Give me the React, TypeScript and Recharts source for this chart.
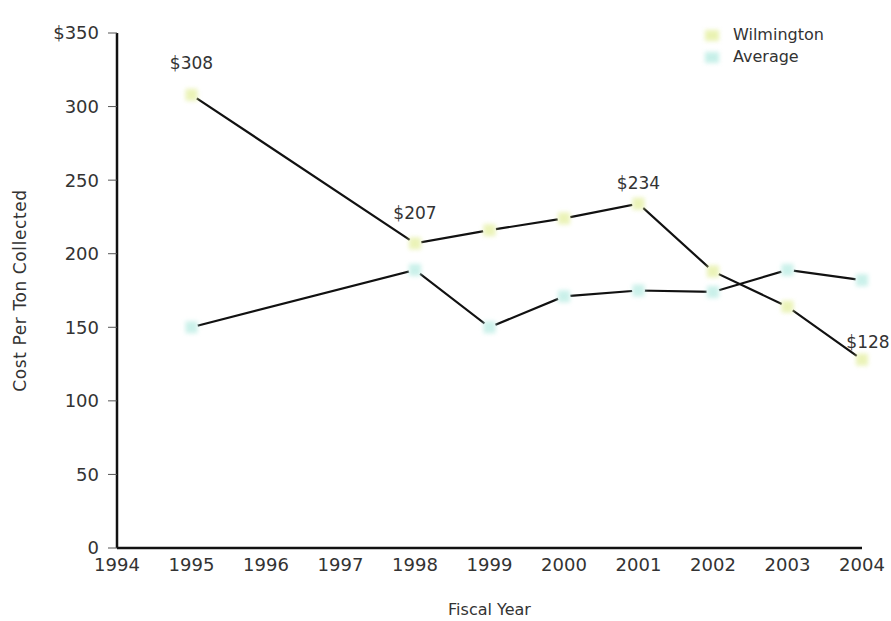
import React from 'react';
import { LineChart, Line, XAxis, YAxis, Legend, LabelList, Label } from 'recharts';

// Fiscal years with reported values
const years = [1995, 1998, 1999, 2000, 2001, 2002, 2003, 2004];
// Cost per ton collected, Wilmington
const wilmington = [308, 207, 216, 224, 234, 188, 164, 128];
// Cost per ton collected, average of comparison cities
const average = [150, 189, 150, 171, 175, 174, 189, 182];
// Years whose Wilmington value is printed above the point
const labeledYears = [1995, 1998, 2001, 2004];
// Axis ticks
const yearTicks = [1994, 1995, 1996, 1997, 1998, 1999, 2000, 2001, 2002, 2003, 2004];
const costTicks = [0, 50, 100, 150, 200, 250, 300, 350];

const seriesNames = ['Wilmington', 'Average'];
const markerColors = ['#e4efa0', '#b9ece3'];

const data = years.map((year, i) => ({
  year,
  wilmington: wilmington[i],
  average: average[i],
}));

const FONT = '"DejaVu Sans", sans-serif';
const TEXT = '#333333';
const INK = '#111111';

// Pale, blurred marker that also opens a small gap in the line around the point
const makeDot = (color: string) => (props: any) => {
  const { cx, cy, index } = props;
  if (cx == null || cy == null) return <g key={`d-${index}`} />;
  return (
    <g key={`d-${index}`}>
      <circle cx={cx} cy={cy} r={6.5} fill="#ffffff" />
      <rect
        x={cx - 6}
        y={cy - 6}
        width={12}
        height={12}
        fill={color}
        opacity={0.75}
        filter="url(#soft)"
      />
    </g>
  );
};

// Small vertical nudges so each value label sits clear of the line
const labelLift: Record<number, number> = { 1995: 26, 1998: 24, 2001: 15, 2004: 12 };
const labelShift: Record<number, number> = { 2004: 6 };

const renderValueLabel = (props: any) => {
  const { x, y, value, index } = props;
  const year = data[index]?.year;
  if (!labeledYears.includes(year)) return null;
  return (
    <text
      key={`l-${index}`}
      x={x + (labelShift[year] ?? 0)}
      y={y - (labelLift[year] ?? 18)}
      textAnchor="middle"
      fontFamily={FONT}
      fontSize={17}
      fill={TEXT}
    >
      {`$${value}`}
    </text>
  );
};

const renderLegend = () => (
  <div style={{ fontFamily: FONT, fontSize: 16, color: TEXT, lineHeight: '22px' }}>
    {seriesNames.map((name, i) => (
      <div key={name} style={{ display: 'flex', alignItems: 'center' }}>
        <span
          style={{
            display: 'inline-block',
            width: 14,
            height: 11,
            background: markerColors[i],
            opacity: 0.8,
            filter: 'blur(2px)',
            marginRight: 14,
          }}
        />
        <span>{name}</span>
      </div>
    ))}
  </div>
);

const YTitle = (props: any) => {
  const vb = props.viewBox || {};
  const cx = 20;
  const cy = (vb.y ?? 0) + (vb.height ?? 0) / 2;
  return (
    <text
      x={cx}
      y={cy}
      transform={`rotate(-90, ${cx}, ${cy})`}
      textAnchor="middle"
      dominantBaseline="central"
      fontFamily={FONT}
      fontSize={17}
      letterSpacing={0.6}
      fill={TEXT}
    >
      Cost Per Ton Collected
    </text>
  );
};

export default function App() {
  return (
    <div style={{ position: 'absolute', left: 0, top: 0, width: 891, height: 621, background: '#ffffff' }}>
      <LineChart width={891} height={621} data={data} margin={{ top: 33, right: 29, left: 0, bottom: 0 }}>
        <defs>
          <filter id="soft" x="-60%" y="-60%" width="220%" height="220%">
            <feGaussianBlur stdDeviation="2.2" />
          </filter>
        </defs>
        <XAxis
          type="number"
          dataKey="year"
          domain={[1994, 2004]}
          ticks={yearTicks}
          interval={0}
          tickLine={false}
          tickMargin={4}
          axisLine={{ stroke: INK, strokeWidth: 2.5 }}
          tick={{ fill: TEXT, fontSize: 18, fontFamily: FONT }}
          height={73}
        >
          <Label
            value="Fiscal Year"
            position="insideBottom"
            offset={6}
            style={{ fill: TEXT, fontSize: 16, fontFamily: FONT }}
          />
        </XAxis>
        <YAxis
          type="number"
          domain={[0, 350]}
          ticks={costTicks}
          interval={0}
          width={117}
          tickSize={9}
          tickMargin={9}
          tickLine={{ stroke: '#555555', strokeWidth: 1 }}
          axisLine={{ stroke: INK, strokeWidth: 2.5 }}
          tick={{ fill: TEXT, fontSize: 18, fontFamily: FONT }}
          tickFormatter={(v: number) => (v === 350 ? '$350' : String(v))}
        >
          <Label content={<YTitle />} />
        </YAxis>
        <Legend
          layout="vertical"
          align="center"
          verticalAlign="middle"
          content={renderLegend}
          wrapperStyle={{ position: 'absolute', left: 705, top: 24, width: 160 }}
        />
        <Line
          type="linear"
          dataKey="average"
          name="Average"
          stroke={INK}
          strokeWidth={2.2}
          dot={makeDot(markerColors[1])}
          activeDot={false}
          isAnimationActive={false}
        />
        <Line
          type="linear"
          dataKey="wilmington"
          name="Wilmington"
          stroke={INK}
          strokeWidth={2.2}
          dot={makeDot(markerColors[0])}
          activeDot={false}
          isAnimationActive={false}
        >
          <LabelList dataKey="wilmington" content={renderValueLabel} />
        </Line>
      </LineChart>
    </div>
  );
}
